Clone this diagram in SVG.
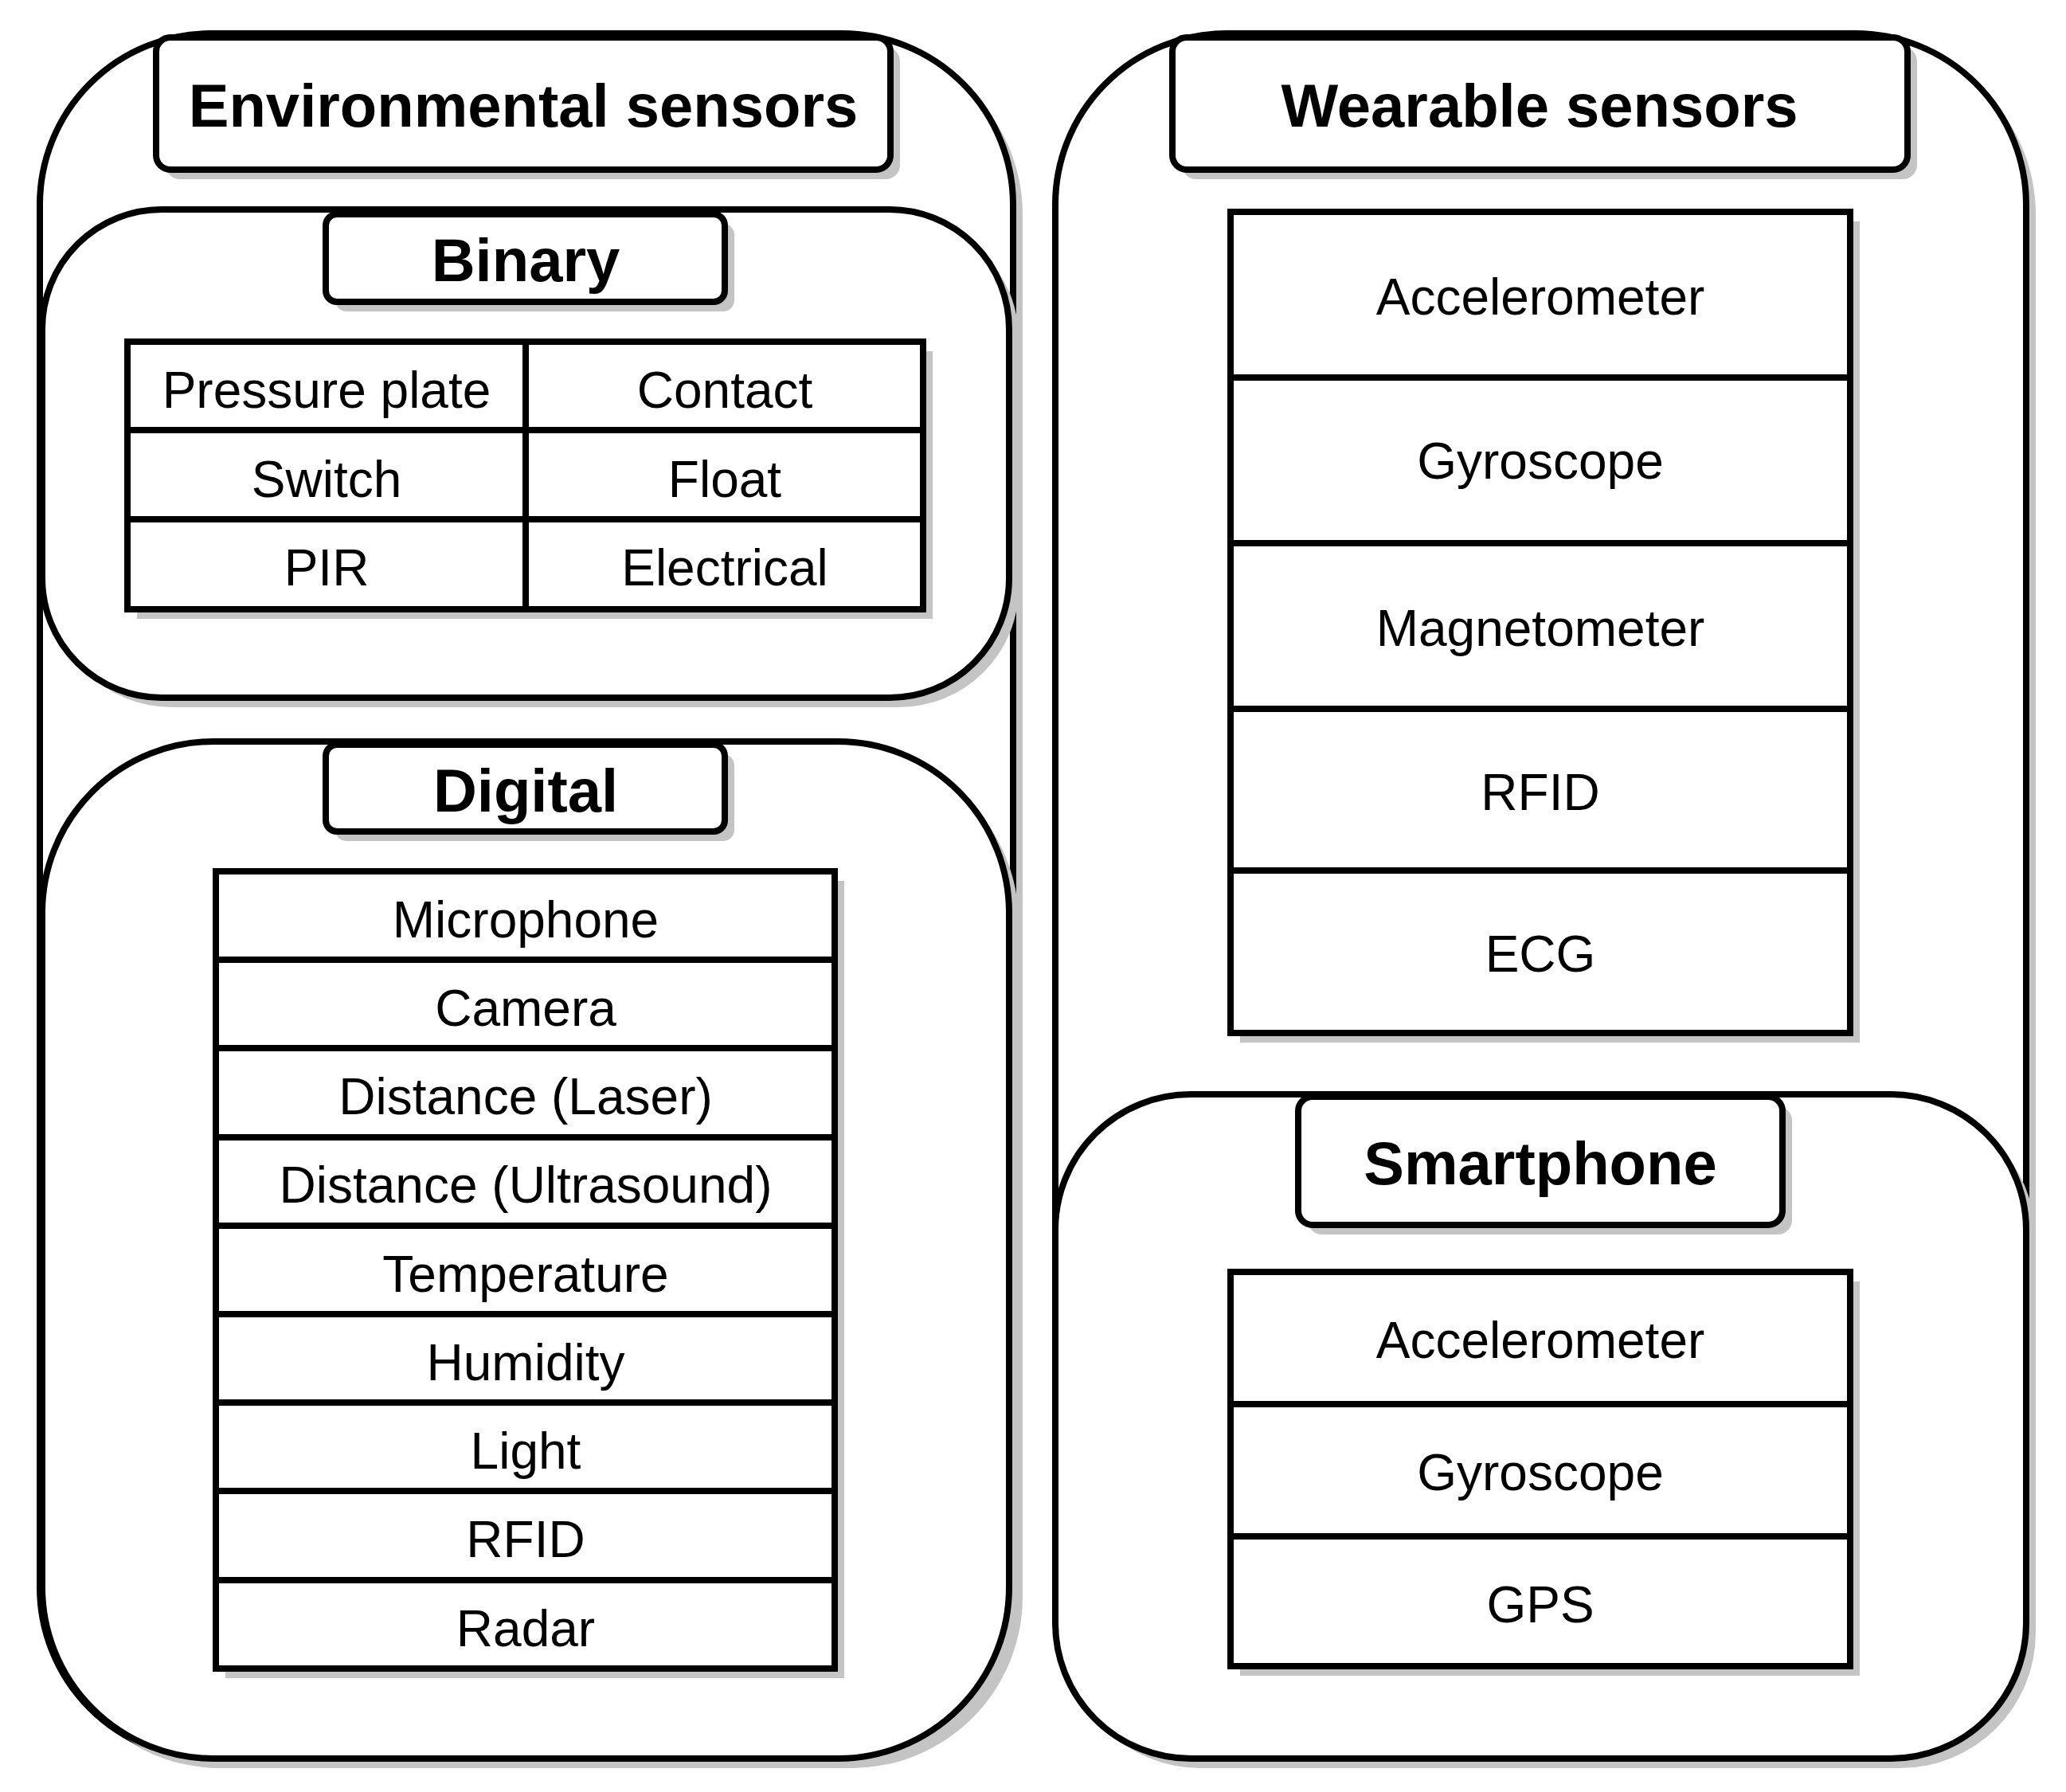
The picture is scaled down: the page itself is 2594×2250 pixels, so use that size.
<svg xmlns="http://www.w3.org/2000/svg" width="2594" height="2250" viewBox="0 0 2594 2250">
<style>
.b{fill:#fff;stroke:#000;stroke-width:8}
.s{fill:#c4c4c4;stroke:none}
.l{stroke:#000;stroke-width:8}
.h{font-family:"Liberation Sans",Arial,sans-serif;font-weight:bold;font-size:76px;text-anchor:middle;dominant-baseline:central}
.t{font-family:"Liberation Sans",Arial,sans-serif;font-size:64px;text-anchor:middle;dominant-baseline:central}
</style>
<rect width="2594" height="2250" fill="#fff"/>
<g id="env">
<rect class="s" x="62" y="54" width="1222" height="2166" rx="215"/>
<rect class="b" x="50" y="42" width="1222" height="2166" rx="215"/>
</g>
<g id="wear">
<rect class="s" x="1337" y="54" width="1219" height="2166" rx="215"/>
<rect class="b" x="1325" y="42" width="1219" height="2166" rx="215"/>
</g>
<g id="env-title">
<rect class="s" x="208" y="59" width="922" height="166" rx="18"/>
<rect class="b" x="196" y="47" width="922" height="166" rx="18"/>
<text class="h" x="657" y="132">Environmental sensors</text>
</g>
<g id="wear-title">
<rect class="s" x="1484" y="59" width="923" height="166" rx="18"/>
<rect class="b" x="1472" y="47" width="923" height="166" rx="18"/>
<text class="h" x="1933" y="132">Wearable sensors</text>
</g>
<g id="binary">
<rect class="s" x="65" y="275" width="1214" height="613" rx="150"/>
<rect class="b" x="53" y="263" width="1214" height="613" rx="150"/>
<rect class="s" x="421" y="281" width="501" height="110" rx="14"/>
<rect class="b" x="409" y="269" width="501" height="110" rx="14"/>
<text class="h" x="660" y="326">Binary</text>
<rect class="s" x="172" y="441" width="999" height="336"/>
<rect class="b" x="160" y="429" width="999" height="336"/>
<line class="l" x1="660" y1="429" x2="660" y2="765"/>
<line class="l" x1="160" y1="540" x2="1159" y2="540"/>
<line class="l" x1="160" y1="652" x2="1159" y2="652"/>
<text class="t" x="410" y="490">Pressure plate</text>
<text class="t" x="910" y="490">Contact</text>
<text class="t" x="410" y="602">Switch</text>
<text class="t" x="910" y="602">Float</text>
<text class="t" x="410" y="713">PIR</text>
<text class="t" x="910" y="713">Electrical</text>
</g>
<g id="digital">
<rect class="s" x="65" y="943" width="1214" height="1277" rx="215"/>
<rect class="b" x="53" y="931" width="1214" height="1277" rx="215"/>
<rect class="s" x="421" y="947" width="501" height="109" rx="14"/>
<rect class="b" x="409" y="935" width="501" height="109" rx="14"/>
<text class="h" x="660" y="992">Digital</text>
<rect class="s" x="283" y="1106" width="777" height="1001"/>
<rect class="b" x="271" y="1094" width="777" height="1001"/>
<line class="l" x1="271" y1="1205" x2="1048" y2="1205"/>
<line class="l" x1="271" y1="1316" x2="1048" y2="1316"/>
<line class="l" x1="271" y1="1428" x2="1048" y2="1428"/>
<line class="l" x1="271" y1="1539" x2="1048" y2="1539"/>
<line class="l" x1="271" y1="1650" x2="1048" y2="1650"/>
<line class="l" x1="271" y1="1761" x2="1048" y2="1761"/>
<line class="l" x1="271" y1="1872" x2="1048" y2="1872"/>
<line class="l" x1="271" y1="1984" x2="1048" y2="1984"/>
<text class="t" x="660" y="1155">Microphone</text>
<text class="t" x="660" y="1266">Camera</text>
<text class="t" x="660" y="1377">Distance (Laser)</text>
<text class="t" x="660" y="1488">Distance (Ultrasound)</text>
<text class="t" x="660" y="1600">Temperature</text>
<text class="t" x="660" y="1711">Humidity</text>
<text class="t" x="660" y="1822">Light</text>
<text class="t" x="660" y="1933">RFID</text>
<text class="t" x="660" y="2045">Radar</text>
</g>
<g id="wear-list">
<rect class="s" x="1557" y="278" width="778" height="1031"/>
<rect class="b" x="1545" y="266" width="778" height="1031"/>
<line class="l" x1="1545" y1="474" x2="2323" y2="474"/>
<line class="l" x1="1545" y1="682" x2="2323" y2="682"/>
<line class="l" x1="1545" y1="890" x2="2323" y2="890"/>
<line class="l" x1="1545" y1="1093" x2="2323" y2="1093"/>
<text class="t" x="1934" y="373">Accelerometer</text>
<text class="t" x="1934" y="579">Gyroscope</text>
<text class="t" x="1934" y="789">Magnetometer</text>
<text class="t" x="1934" y="995">RFID</text>
<text class="t" x="1934" y="1198">ECG</text>
</g>
<g id="smartphone">
<rect class="s" x="1337" y="1386" width="1219" height="834" rx="170"/>
<rect class="b" x="1325" y="1374" width="1219" height="834" rx="170"/>
<rect class="s" x="1642" y="1389" width="608" height="161" rx="18"/>
<rect class="b" x="1630" y="1377" width="608" height="161" rx="18"/>
<text class="h" x="1934" y="1460">Smartphone</text>
<rect class="s" x="1557" y="1609" width="778" height="495"/>
<rect class="b" x="1545" y="1597" width="778" height="495"/>
<line class="l" x1="1545" y1="1763" x2="2323" y2="1763"/>
<line class="l" x1="1545" y1="1929" x2="2323" y2="1929"/>
<text class="t" x="1934" y="1683">Accelerometer</text>
<text class="t" x="1934" y="1849">Gyroscope</text>
<text class="t" x="1934" y="2015">GPS</text>
</g>
<g id="connectors"/>
</svg>
